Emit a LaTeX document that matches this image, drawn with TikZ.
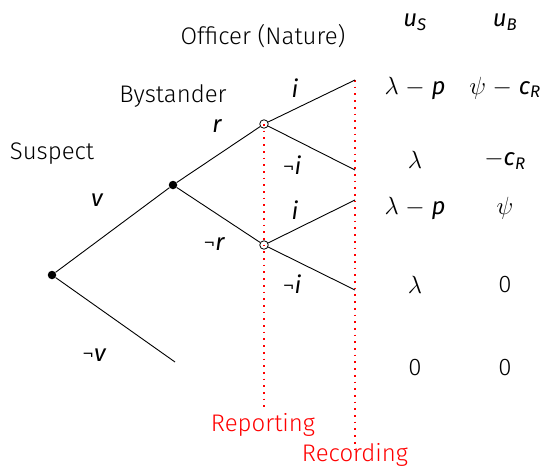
\documentclass[tikz,border=0pt]{standalone}
\usepackage{fontspec}
\setmainfont{Fira Sans Light}
\newfontfamily\varfont{Fira Sans}
\newcommand\V[1]{{\varfont\itshape #1}}
\newcommand\Neg{¬}
\begin{document}
\begin{tikzpicture}[x=1pt,y=-1pt,
  every node/.style={font=\fontsize{24}{28}\selectfont, inner sep=0pt},
  edge/.style={draw=black, line width=0.9pt},
  decision/.style={circle, fill=black, minimum size=8.5pt, inner sep=0pt},
  chance/.style={circle, draw=black, line width=0.8pt, minimum size=8.5pt, inner sep=0pt},
  stage/.style={draw=red, line width=1.7pt, dash pattern=on 1.7pt off 5pt},
  stagelabel/.style={text=red}]
\useasboundingbox (0,0) rectangle (547,471);
\coordinate (l1) at (355,80);
\coordinate (l2) at (355,170);
\coordinate (l3) at (355,200);
\coordinate (l4) at (355,290);
\coordinate (l5) at (175,362);
\coordinate (rep) at (264,410);
\coordinate (rec) at (355,455);
\node[decision] (S) at (52,275) {};
\node[decision] (B) at (173,185) {};
\node[chance] (O1) at (264,124) {};
\node[chance] (O2) at (264,245) {};
\draw[stage] (O1.center) -- (rep);
\draw[stage] (l1) -- (rec);
\draw[edge] (S) -- (B);
\draw[edge] (S) -- (l5);
\draw[edge] (B) -- (O1);
\draw[edge] (B) -- (O2);
\draw[edge] (O1) -- (l1);
\draw[edge] (O1) -- (l2);
\draw[edge] (O2) -- (l3);
\draw[edge] (O2) -- (l4);
% player labels
\node (tS) at (52,154) {Suspect};
\node (tB) at (173,96) {Bystander};
\node (tO) at (263,36) {Officer (Nature)};
% edge labels
\node (ev) at (97,200) {\V{v}};
\node (env) at (94,355) {\Neg\V{v}};
\node (er) at (217,126) {\V{r}};
\node (enr) at (214,244) {\Neg\V{r}};
\node (ei1) at (295,88) {\V{i}};
\node (eni1) at (292,165) {\Neg\V{i}};
\node (ei2) at (295,210) {\V{i}};
\node (eni2) at (292,284) {\Neg\V{i}};
% payoffs
\node (hS) at (415,22) {\V{u}\textsubscript{\V{S}}};
\node (hB) at (505,22) {\V{u}\textsubscript{\V{B}}};
\node (p1S) at (415,88) {$\lambda$ $-$ \V{p}};
\node (p1B) at (505,88) {$\psi$ $-$ \V{c}\textsubscript{\V{R}}};
\node (p2S) at (415,160) {$\lambda$};
\node (p2B) at (505,160) {$-$\V{c}\textsubscript{\V{R}}};
\node (p3S) at (415,208) {$\lambda$ $-$ \V{p}};
\node (p3B) at (505,208) {$\psi$};
\node (p4S) at (415,285) {$\lambda$};
\node (p4B) at (505,285) {0};
\node (p5S) at (415,368) {0};
\node (p5B) at (505,368) {0};
% stage labels
\node[stagelabel] (tRep) at (263,425) {Reporting};
\node[stagelabel] (tRec) at (355,455) {Recording};
\end{tikzpicture}
\end{document}
